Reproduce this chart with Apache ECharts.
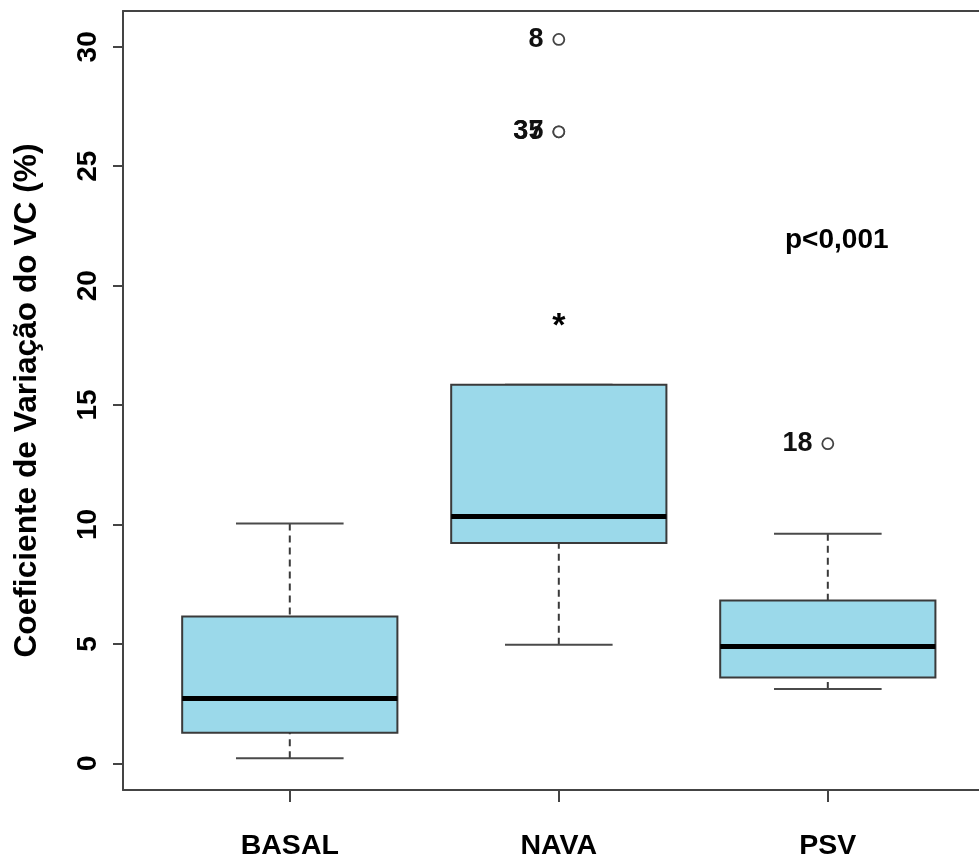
<!DOCTYPE html>
<html>
<head>
<meta charset="utf-8">
<script src="https://cdn.jsdelivr.net/npm/echarts@6/dist/echarts.min.js"></script>
<style>html,body{margin:0;padding:0;background:#fff}#c{width:979px;height:856px}</style>
</head>
<body>
<div id="c"></div>
<script>
const categories = ['BASAL', 'NAVA', 'PSV'];
const whiskerLow = [0.21, 4.96, 3.11];
const q1 = [1.28, 9.22, 3.59];
const median = [2.71, 10.33, 4.89];
const q3 = [6.14, 15.85, 6.81];
const whiskerHigh = [10.04, 15.85, 9.61];
const outlierCategory = ['NAVA', 'NAVA', 'NAVA', 'PSV'];
const outlierValue = [30.31, 26.44, 26.44, 13.38];
const outlierLabel = ['8', '37', '35', '18'];
const extremeCategory = ['NAVA'];
const extremeValue = [18.54];
const yTicks = [0, 5, 10, 15, 20, 25, 30];
const annotation = 'p<0,001';
const yTitle = 'Coeficiente de Variação do VC (%)';

const FONT = '"Liberation Sans", Arial, sans-serif';
const pos = c => categories.indexOf(c) + 1;

const boxData = categories.map((c, i) => [i + 1, whiskerLow[i], q1[i], median[i], q3[i], whiskerHigh[i]]);
const outData = outlierValue.map((v, i) => [pos(outlierCategory[i]), v, outlierLabel[i]]);
const extData = extremeValue.map((v, i) => [pos(extremeCategory[i]), v]);

function renderBox(params, api) {
  const x = api.value(0);
  const pLo = api.coord([x, api.value(1)]);
  const pQ1 = api.coord([x, api.value(2)]);
  const pMd = api.coord([x, api.value(3)]);
  const pQ3 = api.coord([x, api.value(4)]);
  const pHi = api.coord([x, api.value(5)]);
  const half = api.size([0.4, 0])[0];
  const capHalf = api.size([0.2, 0])[0];
  const cx = pMd[0];
  const lineCol = '#3a3a3a';
  return {
    type: 'group',
    children: [
      { type: 'line', shape: { x1: cx, y1: pLo[1], x2: cx, y2: pQ1[1] }, style: { stroke: lineCol, lineWidth: 2, lineDash: [7, 5] } },
      { type: 'line', shape: { x1: cx, y1: pHi[1], x2: cx, y2: pQ3[1] }, style: { stroke: lineCol, lineWidth: 2, lineDash: [7, 5] } },
      { type: 'line', shape: { x1: cx - capHalf, y1: pLo[1], x2: cx + capHalf, y2: pLo[1] }, style: { stroke: '#4a4a4a', lineWidth: 2 } },
      { type: 'line', shape: { x1: cx - capHalf, y1: pHi[1], x2: cx + capHalf, y2: pHi[1] }, style: { stroke: '#4a4a4a', lineWidth: 2 } },
      { type: 'rect', shape: { x: cx - half, y: pQ3[1], width: 2 * half, height: pQ1[1] - pQ3[1] }, style: { fill: '#9bd9ea', stroke: lineCol, lineWidth: 2 } },
      { type: 'line', shape: { x1: cx - half, y1: pMd[1], x2: cx + half, y2: pMd[1] }, style: { stroke: '#000', lineWidth: 5 } }
    ]
  };
}

const frameLine = { show: true, onZero: false, lineStyle: { color: '#444', width: 2 } };

const chart = echarts.init(document.getElementById('c'), null, { renderer: 'canvas' });
chart.setOption({
  backgroundColor: '#fff',
  animation: false,
  grid: { left: 123, top: 11, right: 0, bottom: 66, show: false, containLabel: false, outerBoundsMode: 'none' },
  xAxis: [{
    type: 'value', min: 0.38, max: 3.562, position: 'bottom',
    splitLine: { show: false }, axisLine: frameLine,
    axisTick: { show: true, length: 12, lineStyle: { color: '#444', width: 2 }, customValues: [1, 2, 3] },
    axisLabel: { customValues: [1, 2, 3], formatter: v => categories[Math.round(v) - 1] || '', fontFamily: FONT, fontWeight: 'bold', fontSize: 28.5, color: '#000', margin: 42 }
  }, {
    type: 'value', min: 0.38, max: 3.562, position: 'top',
    splitLine: { show: false }, axisLine: frameLine,
    axisTick: { show: false }, axisLabel: { show: false }
  }],
  yAxis: {
    type: 'value', min: -1.12, max: 31.5,
    name: yTitle, nameLocation: 'middle', nameGap: 80, nameRotate: 90,
    nameTextStyle: { fontFamily: FONT, fontWeight: 'bold', fontSize: 31.7, color: '#000' },
    splitLine: { show: false }, axisLine: frameLine,
    axisTick: { show: true, length: 10, lineStyle: { color: '#444', width: 2 }, customValues: yTicks },
    axisLabel: { customValues: yTicks, rotate: 90, fontFamily: FONT, fontWeight: 'bold', fontSize: 28, color: '#000', margin: 21 }
  },
  series: [
    { type: 'custom', renderItem: renderBox, data: boxData, encode: { x: 0, y: [1, 2, 3, 4, 5] }, z: 2 },
    {
      type: 'scatter', data: outData, symbol: 'circle', symbolSize: 11, z: 3,
      itemStyle: { color: '#fff', borderColor: '#444', borderWidth: 1.8, opacity: 1 },
      label: { show: true, position: 'left', distance: 9, formatter: p => p.data[2], fontFamily: FONT, fontWeight: 'bold', fontSize: 27, color: '#111' },
      labelLayout: { hideOverlap: false }
    },
    {
      type: 'scatter', data: extData, symbol: 'circle', symbolSize: 1, z: 3,
      itemStyle: { color: 'rgba(0,0,0,0)', opacity: 1 },
      label: { show: true, position: 'inside', formatter: '*', fontFamily: FONT, fontWeight: 'bold', fontSize: 34, color: '#000', offset: [0, 6] }
    }
  ],
  graphic: [
    { type: 'text', left: 785, top: 226, style: { text: annotation, font: 'bold 28px ' + FONT, fill: '#000' } }
  ]
});
</script>
</body>
</html>
